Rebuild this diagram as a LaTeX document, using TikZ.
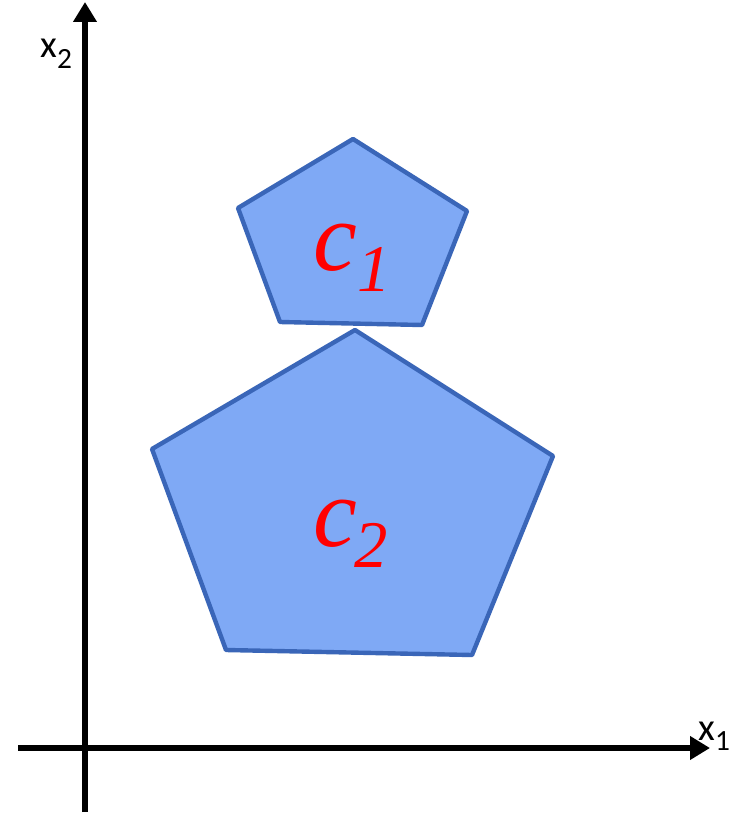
\documentclass[tikz,border=0pt]{standalone}
\usepackage{fontspec}
\setmainfont{Carlito}
\newfontfamily\clabfont{Liberation Serif}
\usetikzlibrary{arrows.meta}
\definecolor{pfill}{HTML}{7FA9F5}
\definecolor{pdraw}{HTML}{3A66B8}
\begin{document}
\begin{tikzpicture}[x=0.75pt,y=-0.75pt,
  axis/.style={line width=4.5pt,-{Triangle[length=15pt,width=17pt]}},
  pent/.style={fill=pfill,draw=pdraw,line width=3.3pt,line join=round},
  axlab/.style={inner sep=0pt,anchor=base west,font=\fontsize{29}{32}\selectfont},
  clab/.style={inner sep=0pt,anchor=base west,text=red,font=\clabfont\itshape\fontsize{74}{80}\selectfont},
  csub/.style={inner sep=0pt,anchor=base west,text=red,font=\clabfont\itshape\fontsize{50}{56}\selectfont}]
\useasboundingbox (0,0) rectangle (738,813);
\fill[white] (0,0) rectangle (738,813);
% axes
\coordinate (vs) at (85,812);
\coordinate (ve) at (85,2);
\coordinate (hs) at (18,748);
\coordinate (he) at (710,748);
\draw[axis] (vs) -- (ve);
\draw[axis] (hs) -- (he);
\node[axlab] (lx2) at (40,58) {x\raisebox{-0.28em}{\fontsize{22}{24}\selectfont 2}};
\node[axlab] (lx1) at (698,740) {x\raisebox{-0.28em}{\fontsize{22}{24}\selectfont 1}};
% pentagons
\draw[pent] (353,139) -- (467,211) -- (422,325) -- (280,322) -- (238,208) -- cycle;
\draw[pent] (355,330) -- (553,456) -- (472,655) -- (226,650) -- (152,449) -- cycle;
% labels
\node[clab] (c1) at (313,270) {c};
\node[csub] (s1) at (357,291) {1};
\node[clab] (c2) at (313,546) {c};
\node[csub] (s2) at (354,567) {2};
\end{tikzpicture}
\end{document}
